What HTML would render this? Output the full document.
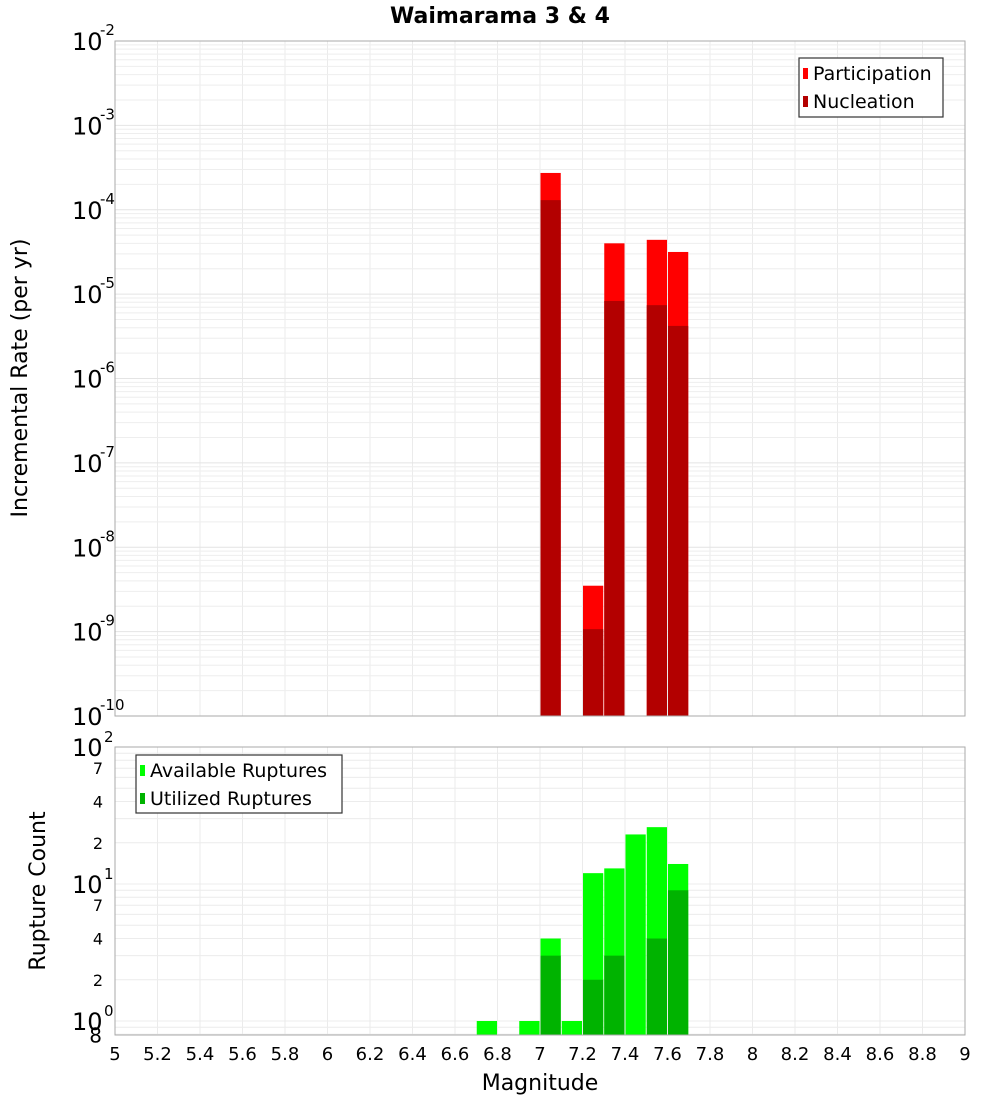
<!DOCTYPE html>
<html><head><meta charset="utf-8"><style>
body{margin:0;background:#fff}
svg{display:block;font-family:"DejaVu Sans","Liberation Sans",sans-serif}
</style></head><body>
<svg id="c" width="1000" height="1100" xmlns="http://www.w3.org/2000/svg">
<text x="500" y="23" text-anchor="middle" font-size="22" font-weight="bold">Waimarama 3 &amp; 4</text>
<text transform="translate(27,378) rotate(-90)" text-anchor="middle" font-size="22">Incremental Rate (per yr)</text>
<text transform="translate(45,891) rotate(-90)" text-anchor="middle" font-size="22">Rupture Count</text>
<text x="540" y="1090" text-anchor="middle" font-size="22">Magnitude</text>
<g id="grid"></g><g id="bars"></g><g id="axes"></g>
<g>
<rect x="799" y="58" width="144" height="59" fill="#fff" stroke="#333" stroke-width="1.2"/>
<rect x="803" y="68" width="5" height="11" fill="#ff0000"/>
<text x="813" y="80" font-size="19">Participation</text>
<rect x="803" y="96" width="5" height="11" fill="#b30000"/>
<text x="813" y="108" font-size="19">Nucleation</text>
</g>
<g>
<rect x="136" y="755" width="206" height="58" fill="#fff" stroke="#333" stroke-width="1.2"/>
<rect x="140" y="765" width="5" height="11" fill="#00ff00"/>
<text x="150" y="777" font-size="19">Available Ruptures</text>
<rect x="140" y="793" width="5" height="11" fill="#00b300"/>
<text x="150" y="805" font-size="19">Utilized Ruptures</text>
</g>
</svg>
<script>
const mags=[7.05,7.25,7.35,7.55,7.65];
const participation=[2.73e-4,3.5e-9,4.0e-5,4.4e-5,3.16e-5];
const nucleation=[1.3e-4,1.07e-9,8.3e-6,7.4e-6,4.2e-6];
const cntMags=[6.75,6.95,7.05,7.15,7.25,7.35,7.45,7.55,7.65];
const available=[1,1,4,1,12,13,23,26,14];
const utilized=[0,0,3,0,2,3,0,4,9];
const xTicks=[5,5.2,5.4,5.6,5.8,6,6.2,6.4,6.6,6.8,7,7.2,7.4,7.6,7.8,8,8.2,8.4,8.6,8.8,9];
const topExp=[-10,-9,-8,-7,-6,-5,-4,-3,-2];
const botMinor=[2,4,7];

const L=115,R=965,T1=41,B1=716,T2=747,B2=1035;
const NS="http://www.w3.org/2000/svg";
const xs=m=>L+(m-5)*(R-L)/4;
const y1=v=>T1+(-2-Math.log10(v))*(B1-T1)/8;
const y2=v=>T2+(2-Math.log10(v))*137;
function mk(p,t,a,txt){const e=document.createElementNS(NS,t);for(const k in a)e.setAttribute(k,a[k]);if(txt!==undefined)e.textContent=txt;document.getElementById(p).appendChild(e);return e;}
// grid
xTicks.forEach(t=>{mk('grid','line',{x1:xs(t),x2:xs(t),y1:T1,y2:B1,stroke:'#ebebeb'});mk('grid','line',{x1:xs(t),x2:xs(t),y1:T2,y2:B2,stroke:'#ebebeb'});});
topExp.forEach(e=>{if(e<-2)for(let k=2;k<=9;k++){const v=k*Math.pow(10,e);mk('grid','line',{x1:L,x2:R,y1:y1(v),y2:y1(v),stroke:'#eeeeee'});}
 mk('grid','line',{x1:L,x2:R,y1:y1(Math.pow(10,e)),y2:y1(Math.pow(10,e)),stroke:'#e4e4e4'});});
[1,10].forEach(d=>{for(let k=1;k<=9;k++){const v=k*d;mk('grid','line',{x1:L,x2:R,y1:y2(v),y2:y2(v),stroke:'#ececec'});}});
[0.8,0.9].forEach(v=>mk('grid','line',{x1:L,x2:R,y1:y2(v),y2:y2(v),stroke:'#ececec'}));
// bars
const bw=(R-L)/40;
mags.forEach((m,i)=>{
 let r=mk('bars','rect',{x:xs(m)-bw/2+0.5,y:y1(participation[i]),width:bw-1,height:B1-y1(participation[i]),fill:'#ff0000'});
 
 r=mk('bars','rect',{x:xs(m)-bw/2+0.5,y:y1(nucleation[i]),width:bw-1,height:B1-y1(nucleation[i]),fill:'#b30000'});
 
});
cntMags.forEach((m,i)=>{
 let r=mk('bars','rect',{x:xs(m)-bw/2+0.5,y:y2(available[i]),width:bw-1,height:B2-y2(available[i]),fill:'#00ff00'});
 
 if(utilized[i]>0){r=mk('bars','rect',{x:xs(m)-bw/2+0.5,y:y2(utilized[i]),width:bw-1,height:B2-y2(utilized[i]),fill:'#00b300'});
 }
});
// axes
mk('axes','rect',{x:L,y:T1,width:R-L,height:B1-T1,fill:'none',stroke:'#aaa'});
mk('axes','rect',{x:L,y:T2,width:R-L,height:B2-T2,fill:'none',stroke:'#aaa'});
xTicks.forEach(t=>{const e=mk('axes','text',{x:xs(t),y:1060,'text-anchor':'middle','font-size':18},String(t));});
topExp.forEach(e=>{const y=y1(Math.pow(10,e));
 const t=mk('axes','text',{x:72,y:y+9,'font-size':24},'10');
 mk('axes','text',{x:100,y:y-6,'font-size':15},String(e));});
[[100,'2'],[10,'1'],[1,'0']].forEach(([v,ex])=>{const y=y2(v);
 const t=mk('axes','text',{x:72,y:y+9,'font-size':24},'10');
 mk('axes','text',{x:104,y:y-5,'font-size':15},ex);});
[1,10].forEach(d=>botMinor.forEach(k=>{const y=y2(k*d);mk('axes','text',{x:103,y:y+6,'font-size':16,'text-anchor':'end'},String(k));}));
mk('axes','text',{x:102,y:y2(0.8)+8,'font-size':20,'text-anchor':'end'},'8');
</script>
</body></html>
